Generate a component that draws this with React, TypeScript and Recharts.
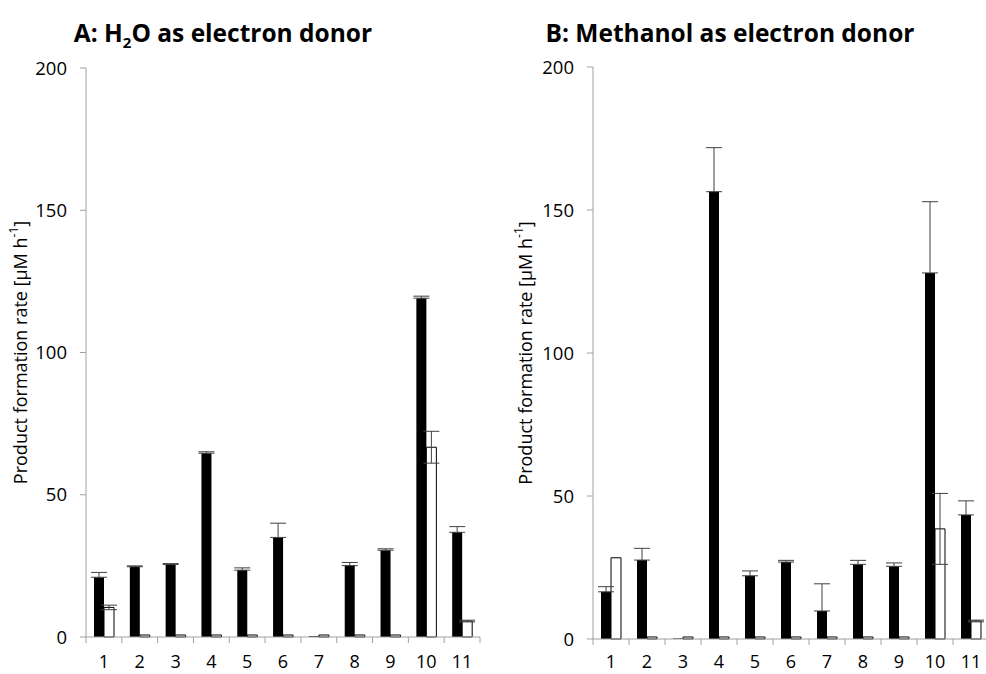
import { BarChart, Bar, XAxis, YAxis, ErrorBar } from 'recharts'

const categories = ['1', '2', '3', '4', '5', '6', '7', '8', '9', '10', '11']
const yTicks = [0, 50, 100, 150, 200]

// A: H2O as electron donor
const h2oFilled = [21.0, 24.7, 25.5, 64.6, 23.5, 35.0, 0.3, 25.1, 30.5, 119.1, 36.8]
const h2oFilledErr = [1.7, 0.3, 0.3, 0.5, 0.8, 5.0, null, 1.1, 0.5, 0.7, 2.0]
const h2oOpen = [10.4, 0.7, 0.7, 0.7, 0.7, 0.7, 0.7, 0.7, 0.7, 66.7, 5.6]
const h2oOpenErr = [0.8, null, null, null, null, null, null, null, null, 5.6, 0.3]

// B: Methanol as electron donor
const methanolFilled = [16.5, 27.6, 0.2, 156.4, 22.1, 26.9, 9.8, 26.1, 25.4, 128.0, 43.4]
const methanolFilledErr = [1.8, 4.1, null, 15.4, 1.7, 0.6, 9.5, 1.4, 1.2, 24.9, 4.9]
const methanolOpen = [28.4, 0.7, 0.7, 0.7, 0.7, 0.7, 0.7, 0.7, 0.7, 38.5, 6.3]
const methanolOpenErr = [null, null, null, null, null, null, null, null, null, 12.4, 0.3]

const FONT = '"Open Sans", Lato, sans-serif'
const AXIS_GREY = '#a0a0a0'
const LABEL_BASELINE = 668

function buildRows(filled, filledErr, open, openErr) {
  return categories.map((c, i) => ({
    name: c,
    // black bars only show the upper half of the error bar
    filled: filled[i],
    filledErr: filledErr[i] == null ? null : [0, filledErr[i]],
    open: open[i],
    openErr: openErr[i],
  }))
}

// ticks sit on the category boundaries, label in the middle
function CategoryTick({ x, y, payload, index, band }) {
  const half = band / 2
  return (
    <g>
      <line x1={x - half} x2={x - half} y1={y} y2={y + 6} stroke={AXIS_GREY} />
      {index === categories.length - 1 && (
        <line x1={x + half} x2={x + half} y1={y} y2={y + 6} stroke={AXIS_GREY} />
      )}
      <text x={x} y={LABEL_BASELINE} textAnchor="middle" fontSize={18} fontFamily={FONT} fill="#000">
        {payload.value}
      </text>
    </g>
  )
}

function YLabel({ viewBox, dx }) {
  const cx = viewBox.x + dx
  const cy = viewBox.y + viewBox.height / 2
  return (
    <text
      x={cx}
      y={cy}
      transform={`rotate(-90 ${cx} ${cy})`}
      textAnchor="middle"
      dominantBaseline="central"
      fontSize={18}
      fontFamily={FONT}
      fill="#000"
    >
      Product formation rate [µM h<tspan dy={-7} fontSize={12}>-1</tspan>
      <tspan dy={7}>]</tspan>
    </text>
  )
}

function Panel({ data, width, top, bottom, axisWidth, right, labelDx }) {
  const band = (width - axisWidth - right) / categories.length
  return (
    <BarChart
      width={width}
      height={674}
      data={data}
      margin={{ top, right, bottom: 0, left: 0 }}
      barGap={0}
      barSize={10}
    >
      <XAxis
        dataKey="name"
        height={674 - bottom}
        interval={0}
        tickSize={0}
        tickMargin={0}
        tickLine={false}
        axisLine={{ stroke: AXIS_GREY }}
        tick={(p) => <CategoryTick {...p} band={band} />}
      />
      <YAxis
        domain={[0, 200]}
        ticks={yTicks}
        width={axisWidth}
        tickSize={6}
        tickMargin={13}
        axisLine={{ stroke: AXIS_GREY }}
        tickLine={{ stroke: AXIS_GREY }}
        tick={{ fontSize: 18.5, fill: '#000', fontFamily: FONT }}
        label={<YLabel dx={labelDx} />}
      />
      <Bar dataKey="filled" fill="#000" isAnimationActive={false}>
        <ErrorBar dataKey="filledErr" width={8} stroke="#404040" strokeWidth={1} />
      </Bar>
      <Bar dataKey="open" fill="#fff" stroke="#000" strokeWidth={1} isAnimationActive={false}>
        <ErrorBar dataKey="openErr" width={8} stroke="#404040" strokeWidth={1} />
      </Bar>
    </BarChart>
  )
}

const titleStyle = {
  position: 'absolute',
  top: 17,
  transform: 'translateX(-50%)',
  whiteSpace: 'nowrap',
  fontFamily: FONT,
  fontWeight: 700,
  fontSize: 24.5,
  lineHeight: '32px',
  color: '#000',
} as const

const subStyle = { fontSize: 15, verticalAlign: 'sub', lineHeight: 0 } as const

export default function App() {
  return (
    <div
      style={{
        position: 'absolute',
        left: 0,
        top: 0,
        width: 986,
        height: 674,
        overflow: 'hidden',
        background: '#fff',
      }}
    >
      <div style={{ ...titleStyle, left: 223 }}>
        A: H<span style={subStyle}>2</span>O as electron donor
      </div>
      <div style={{ ...titleStyle, left: 730 }}>B: Methanol as electron donor</div>
      <div style={{ position: 'absolute', left: 0, top: 0 }}>
        <Panel
          data={buildRows(h2oFilled, h2oFilledErr, h2oOpen, h2oOpenErr)}
          width={493}
          top={68}
          bottom={637}
          axisWidth={86}
          right={13}
          labelDx={20}
        />
      </div>
      <div style={{ position: 'absolute', left: 500, top: 0 }}>
        <Panel
          data={buildRows(methanolFilled, methanolFilledErr, methanolOpen, methanolOpenErr)}
          width={489}
          top={67}
          bottom={639}
          axisWidth={93}
          right={0}
          labelDx={25}
        />
      </div>
    </div>
  )
}
